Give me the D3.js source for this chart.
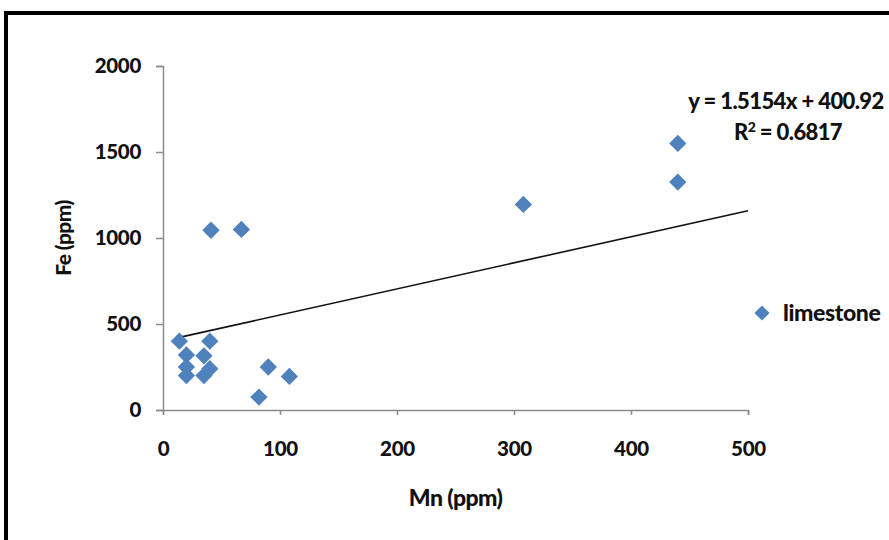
<!DOCTYPE html>
<html lang="en">
<head>
    <meta charset="UTF-8">
    <title>Fe vs Mn</title>
    <script src="https://cdn.jsdelivr.net/npm/d3@7"></script>
    <style>
        body { margin: 0; background: #fff; }
        text { font-family: Lato, "Liberation Sans", sans-serif; font-weight: 900; fill: #111; }
    </style>
</head>
<body>
<script>
    // limestone samples
    const mnValues = [14, 20, 20, 20, 35, 35, 40, 40, 41, 67, 82, 90, 108, 308, 440, 440];
    const feValues = [400, 320, 250, 200, 200, 315, 240, 400, 1045, 1050, 75, 250, 195, 1195, 1550, 1325];
    const xTicks = [0, 100, 200, 300, 400, 500];
    const yTicks = [0, 500, 1000, 1500, 2000];
    const seriesName = "limestone";
    // linear trendline as printed on the chart
    const trendSlope = 1.5154;
    const trendIntercept = 400.92;
    const trendRange = [14, 500];
    const rSquared = "0.6817";

    const width = 889, height = 540;
    const margin = {top: 66, right: 141, bottom: 130, left: 163};

    const svg = d3.select("body").append("svg")
        .attr("width", width)
        .attr("height", height);

    // frame (right and bottom edges run past the picture)
    svg.append("rect")
        .attr("x", 6).attr("y", 13)
        .attr("width", width + 20).attr("height", height + 20)
        .attr("fill", "#fff")
        .attr("stroke", "#000")
        .attr("stroke-width", 4);

    const x = d3.scaleLinear().domain([0, 500]).range([margin.left, width - margin.right]);
    const y = d3.scaleLinear().domain([0, 2000]).range([height - margin.bottom, margin.top]);

    const axisColor = "#8c8c8c";

    const gx = svg.append("g")
        .attr("transform", `translate(0,${y(0)})`)
        .call(d3.axisBottom(x).tickValues(xTicks).tickSize(5).tickPadding(26).tickFormat(d3.format("d")));
    const gy = svg.append("g")
        .attr("transform", `translate(${x(0)},0)`)
        .call(d3.axisLeft(y).tickValues(yTicks).tickSize(7).tickPadding(15).tickFormat(d3.format("d")));

    [gx, gy].forEach(g => {
        g.select(".domain").attr("stroke", axisColor).attr("stroke-width", 1.5);
        g.selectAll(".tick line").attr("stroke", axisColor).attr("stroke-width", 1.5);
        g.selectAll(".tick text").attr("font-size", 20.5).attr("fill", "#111")
            .attr("font-family", "Lato, 'Liberation Sans', sans-serif").attr("font-weight", 900)
            .attr("letter-spacing", -0.3);
    });

    // axis titles
    svg.append("text")
        .attr("x", (x(0) + x(500)) / 2)
        .attr("y", 506)
        .attr("text-anchor", "middle")
        .attr("font-size", 23)
        .attr("letter-spacing", -0.6)
        .text("Mn (ppm)");

    svg.append("text")
        .attr("transform", `translate(71,${(y(0) + y(2000)) / 2}) rotate(-90)`)
        .attr("text-anchor", "middle")
        .attr("font-size", 21)
        .attr("letter-spacing", -0.6)
        .text("Fe (ppm)");

    // trendline
    svg.append("line")
        .attr("x1", x(trendRange[0]))
        .attr("y1", y(trendSlope * trendRange[0] + trendIntercept))
        .attr("x2", x(trendRange[1]))
        .attr("y2", y(trendSlope * trendRange[1] + trendIntercept))
        .attr("stroke", "#111")
        .attr("stroke-width", 1.6);

    const diamond = d3.symbol().type(d3.symbolSquare).size(150);
    const blue = "#4f81bd";

    svg.append("g")
        .selectAll("path")
        .data(mnValues.map((m, i) => ({mn: m, fe: feValues[i]})))
        .join("path")
        .attr("transform", d => `translate(${x(d.mn)},${y(d.fe)}) rotate(45)`)
        .attr("d", diamond)
        .attr("fill", blue);

    // equation label
    svg.append("text")
        .attr("x", 786)
        .attr("y", 109)
        .attr("text-anchor", "middle")
        .attr("font-size", 22)
        .attr("letter-spacing", -0.6)
        .text(`y = ${trendSlope}x + ${trendIntercept}`);

    const r2 = svg.append("text")
        .attr("x", 788)
        .attr("y", 140)
        .attr("text-anchor", "middle")
        .attr("font-size", 22)
        .attr("letter-spacing", -0.6);
    r2.append("tspan").text("R");
    r2.append("tspan").attr("font-size", 14).attr("dy", -8).text("2");
    r2.append("tspan").attr("dy", 8).text(` = ${rSquared}`);

    // legend
    svg.append("path")
        .attr("transform", "translate(762,313) rotate(45)")
        .attr("d", d3.symbol().type(d3.symbolSquare).size(115))
        .attr("fill", blue);
    svg.append("text")
        .attr("x", 783)
        .attr("y", 321)
        .attr("font-size", 23)
        .attr("letter-spacing", -0.4)
        .text(seriesName);
</script>
</body>
</html>
